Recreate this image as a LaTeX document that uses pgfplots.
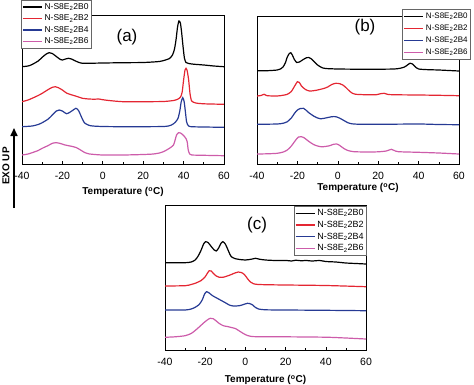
\documentclass[border=0pt]{standalone}
\usepackage{fontspec}
\setmainfont{Liberation Sans}
\usepackage{pgfplots}
\pgfplotsset{compat=1.18}
\usetikzlibrary{arrows.meta}
\definecolor{cred}{RGB}{228,38,50}
\definecolor{cblue}{RGB}{38,58,148}
\definecolor{cpink}{RGB}{205,92,170}
\pgfplotsset{
 dsc/.style={
  scale only axis,
  xmin=-40, xmax=60, ymin=0,
  xtick={-40,-20,...,60}, minor x tick num=1,
  xtick pos=left, ytick=\empty,
  tick align=inside, major tick length=3pt, minor tick length=2pt,
  axis line style={line width=0.8pt},
  every tick/.style={line width=0.6pt, black},
  /pgf/number format/assume math mode=true,
  ticklabel style={font=\fontsize{10.5}{12}\selectfont},
  xticklabel style={yshift=-4.5pt},
  xlabel={\textbf{Temperature (\textsuperscript{o}C)}},
  xlabel style={font=\fontsize{10}{12}\selectfont, at={(axis description cs:0.5,0)}, anchor=north},
  every axis plot/.append style={line width=1.2pt, smooth, tension=0.4, mark=none},
  legend cell align=left,
  legend image code/.code={\draw[#1, sharp plot, line width=1.3pt] (0pt,0pt) -- (19pt,0pt);},
 }
}
\begin{document}
\begin{tikzpicture}
\useasboundingbox (0pt,0pt) rectangle (474pt,-384pt);
% ---------------- (a)
\begin{axis}[dsc, width=202pt, height=149pt, ymax=149,
  at={(22pt,-164pt)}, anchor=south west,
  xlabel style={yshift=-20pt},
  legend style={at={(-0.005,1.1007)}, anchor=north west, draw=black!60, line width=0.6pt,
     font=\fontsize{8.5}{9}\selectfont, inner sep=1pt, row sep=0pt, fill=white}]
\addplot[black] coordinates {(-40,97.3)(-37,98)(-35,99.5)(-32,103)(-30,106.7)(-28,110)(-26.5,111.3)(-25,110.5)(-23,107.5)(-21,104.5)(-20,104)(-18.5,105)(-17,105.7)(-15.5,105)(-14,103.5)(-12,101.7)(-10,100.7)(-5,100.8)(0,101)(10,101.3)(20,101.5)(28,102.5)(31,104)(33,105.5)(34.5,109)(35.5,115)(36.3,125)(37,137)(37.7,143)(38.4,141)(39,132)(39.7,118)(40.4,106)(41.2,101.5)(42.5,100.5)(45,99.8)(50,99)(55,98)(60,97.3)};
\addplot[cred] coordinates {(-40,62.3)(-37,64)(-35,65.7)(-32,68.5)(-30,70.7)(-27,74.5)(-25,76.7)(-23.5,77.3)(-22,76.3)(-20,74)(-18,71)(-16,69.5)(-14,68.3)(-12,67)(-10,65.7)(-7,65)(-4,64.8)(-2,65)(0,64.3)(3,63.5)(10,62.3)(20,62.3)(30,62.5)(35,63.5)(37,64.7)(38.5,67)(39.3,72)(40,84)(40.7,94)(41.2,95.7)(41.8,93)(42.5,84)(43.2,70)(44,63)(46,61)(50,60.2)(60,59.7)};
\addplot[cblue] coordinates {(-40,37.3)(-35,38)(-32,39.5)(-30,41.3)(-27,45)(-25,49)(-23,53)(-21.5,54)(-20,53)(-18,50.3)(-16.5,51.5)(-15,53.5)(-13.3,55.7)(-12,53.5)(-11,49)(-10,44.5)(-9,41)(-7,38.8)(-5,38)(0,37.5)(10,37.3)(30,37.5)(34,39)(36,42)(37.3,46)(38.2,54)(38.8,62)(39.6,66.3)(40.3,62)(40.9,52)(41.5,42)(42.5,38)(45,37.2)(60,36.7)};
\addplot[cpink] coordinates {(-40,9)(-37,10)(-35,11.3)(-32,13.5)(-30,15.7)(-27,18.5)(-25,20.7)(-23,21.3)(-21,20.5)(-19,19.2)(-17,18.3)(-15,17.5)(-13,16.3)(-11,14)(-9,11.5)(-7,10.2)(-5,9.7)(0,9)(10,9)(20,9.5)(25,10)(28,11)(30,12.3)(33,15.7)(35,19)(35.8,24)(36.5,29)(37.5,31.3)(38.5,31)(39.5,29.5)(40.5,27.3)(41.3,25)(41.8,22)(42.3,14)(43,10)(44,9)(50,8.7)(60,8.3)};
\legend{N-S8E\textsubscript{2}2B0,N-S8E\textsubscript{2}2B2,N-S8E\textsubscript{2}2B4,N-S8E\textsubscript{2}2B6}
\end{axis}
% ---------------- (b)
\begin{axis}[dsc, width=202pt, height=148pt, ymax=148,
  at={(257pt,-164pt)}, anchor=south west,
  xlabel style={yshift=-16pt},
  legend style={at={(1.059,1.045)}, anchor=north east, draw=black!60, line width=0.6pt,
     font=\fontsize{8}{9}\selectfont, inner sep=1pt, row sep=1pt, fill=white}]
\addplot[black] coordinates {(-40,93.3)(-35,93.3)(-30,94)(-28,95.5)(-27,97.3)(-26,101)(-25,107)(-24,110.5)(-23.3,111.3)(-22.5,109)(-21.5,104.5)(-20.3,101.5)(-19,102)(-17.5,104)(-15.5,106.3)(-14.3,106.5)(-13,105)(-11.5,102)(-10,99)(-8,96.5)(-6,95.5)(0,95)(10,94.8)(20,94.8)(28,95)(31,95.8)(33,97)(34.5,99)(35.8,100.8)(37,100)(38.2,97.5)(40,95)(45,94.3)(50,94)(60,93)};
\addplot[cred] coordinates {(-40,68)(-38,68.5)(-36.5,69.7)(-35,68.3)(-30,68)(-27,68.8)(-25,69.7)(-23,72.5)(-21.5,77.5)(-20,82.3)(-19,81.5)(-18,78)(-16,74.5)(-14,73)(-12,73.3)(-10,74)(-7,75.5)(-5,77)(-3,79.5)(-1,80.7)(1,80.3)(2.5,79)(4,76.5)(5.5,73.5)(7,71)(9,69.7)(15,69.2)(19,69.3)(21,70.2)(23,70.7)(25,69.5)(30,69.2)(40,69)(50,68.7)(60,68.3)};
\addplot[cblue] coordinates {(-40,39.7)(-30,40)(-27,40.8)(-25,42.3)(-23,46)(-21.5,50.5)(-20,54)(-18.5,55.5)(-17,55.7)(-15.8,54)(-14.5,51.5)(-12,48)(-10,46)(-8.5,45.2)(-6,46)(-3,47.3)(-1,47.3)(1,45.8)(3,43.5)(5,41.3)(7,40.2)(10,39.8)(20,39.7)(40,40)(50,39.5)(60,39.3)};
\addplot[cpink] coordinates {(-40,10)(-35,10.2)(-30,10.7)(-27,12)(-25,14)(-23,18)(-21,23.5)(-19.5,27)(-18,27.3)(-16.5,26)(-14.5,22.8)(-12,19.5)(-10,18)(-8,17.2)(-6,17.6)(-4,18.3)(-2,19.8)(-0.5,20)(1,18.5)(3,15.5)(5,13.5)(8,12.3)(15,12)(20,12.2)(24,13)(26.5,14.7)(28,13.5)(30,12.3)(40,11.7)(50,11)(60,10)};
\legend{N-S8E\textsubscript{2}2B0,N-S8E\textsubscript{2}2B2,N-S8E\textsubscript{2}2B4,N-S8E\textsubscript{2}2B6}
\end{axis}
% ---------------- (c)
\begin{axis}[dsc, width=201pt, height=145pt, ymax=145,
  at={(165pt,-350pt)}, anchor=south west,
  xlabel style={yshift=-22pt},
  legend style={at={(1.005,0.993)}, anchor=north east, draw=black!60, line width=0.6pt,
     font=\fontsize{9}{10}\selectfont, inner sep=1pt, row sep=0pt, fill=white}]
\addplot[black] coordinates {(-40,87.3)(-30,87.3)(-27,88)(-25,90)(-23.5,94)(-22,100)(-20.8,106)(-19.8,108.3)(-18.5,107.3)(-17,103.5)(-15.5,100)(-14.5,99)(-13.3,102)(-12.2,106.5)(-11.2,108.3)(-10,106)(-9,101.7)(-8,97)(-7,93.3)(-5,91.3)(-2,90.3)(0,90)(3,90.8)(5,91.7)(7,90.8)(10,90)(15,89.5)(20,89.6)(23,89)(25,89.8)(28,89.2)(30,89.6)(33,89)(37,89.5)(40,88.5)(45,88)(50,87)(55,86.5)(60,86)};
\addplot[cred] coordinates {(-40,64)(-30,64.3)(-27,65.5)(-25,66.7)(-22,69.5)(-20,73.3)(-19,76.5)(-18,79.3)(-17,79)(-16,76.7)(-14.5,74)(-13,72.7)(-11,72.8)(-9,74)(-7,75.5)(-5,77.2)(-3.5,78)(-2,77.5)(-0.5,75.5)(1,71.5)(2.5,68)(4,66.3)(6,65.6)(10,65.3)(20,65)(40,64.5)(60,63.3)};
\addplot[cblue] coordinates {(-40,40)(-30,40)(-27,41)(-25,42.7)(-23,45.5)(-21.5,50)(-20.3,56)(-19.3,58.3)(-18,57)(-16.5,54.5)(-14,51.7)(-12,49.5)(-10,47.3)(-8,45)(-6,44)(-3,44.3)(-1,45.5)(1,46.7)(2,46.5)(3.5,45.2)(5,42.5)(6.5,41)(10,40.2)(20,40)(40,39.7)(60,39.3)};
\addplot[cpink] coordinates {(-40,12.7)(-35,13.2)(-30,14.3)(-27,16.5)(-25,19.5)(-23,23)(-21,26.7)(-19,30)(-17.5,31.7)(-16,31.3)(-14.5,29)(-13,26.5)(-11,24.3)(-9,23.5)(-7,22.5)(-5,21.5)(-3,19)(-1,16.5)(1,14.5)(3,13.6)(6,13.3)(20,13.2)(40,12.8)(50,12)(60,11)};
\legend{N-S8E\textsubscript{2}2B0,N-S8E\textsubscript{2}2B2,N-S8E\textsubscript{2}2B4,N-S8E\textsubscript{2}2B6}
\end{axis}
% panel labels and EXO UP
\node[font=\fontsize{17}{20}\selectfont] at (127pt,-37pt) {(a)};
\node[font=\fontsize{17}{20}\selectfont] at (365pt,-27pt) {(b)};
\node[font=\fontsize{17}{20}\selectfont] at (257pt,-225pt) {(c)};
\node[rotate=90, font=\bfseries\fontsize{10}{12}\selectfont, inner sep=0pt] at (6pt,-166pt) {EXO UP};
\draw[line width=1.6pt, -{Triangle[width=7pt,length=8pt]}] (14pt,-208pt) -- (14pt,-128pt);
\end{tikzpicture}
\end{document}
